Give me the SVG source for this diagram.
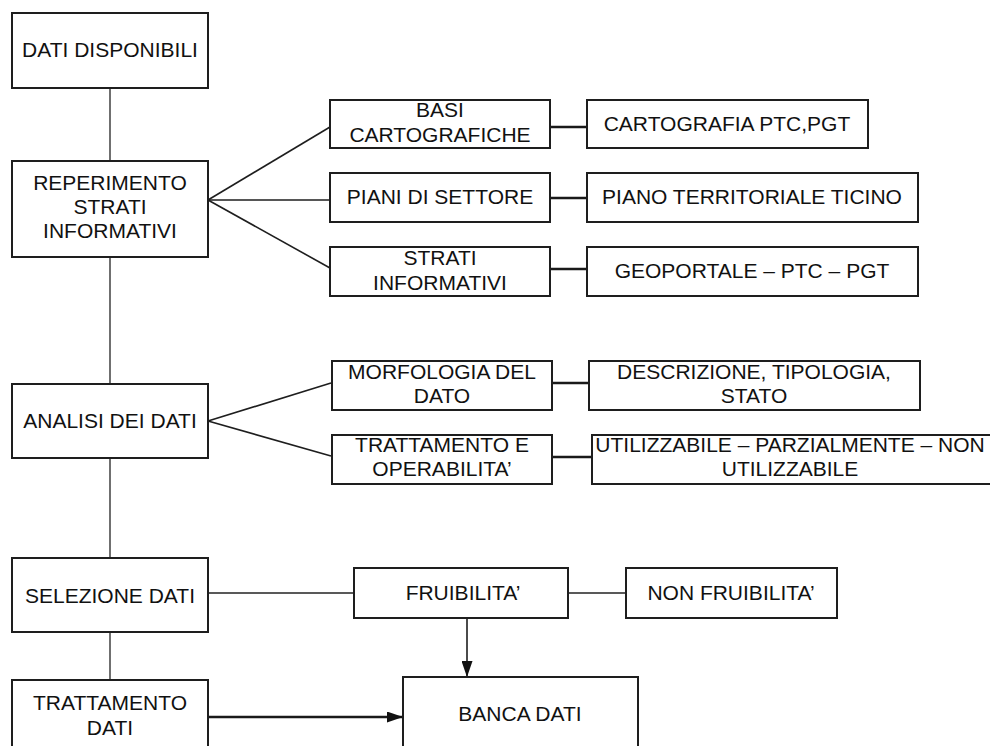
<svg xmlns="http://www.w3.org/2000/svg" width="990" height="746" viewBox="0 0 990 746">
  <style>
    .box { fill: #ffffff; stroke: #1e1e1e; stroke-width: 2; }
    .lbl { font-family: "Liberation Sans", Arial, sans-serif; font-size: 21px; fill: #111111; text-anchor: middle; }
    .thin { stroke: #222222; stroke-width: 1.3; fill: none; }
    .mid { stroke: #1e1e1e; stroke-width: 1.6; fill: none; }
    .bold { stroke: #1a1a1a; stroke-width: 2.4; fill: none; }
  </style>
  <defs>
    <marker id="arrowL" viewBox="0 0 16 11" refX="16" refY="5.5" markerWidth="16" markerHeight="11" orient="auto" markerUnits="userSpaceOnUse">
      <path d="M0,0 L16,5.5 L0,11 z" fill="#111111"/>
    </marker>
  </defs>

  <!-- connectors -->
  <g id="connectors">
    <!-- main spine -->
    <line class="thin" x1="110" y1="88" x2="110" y2="161"/>
    <line class="thin" x1="110" y1="257" x2="110" y2="384"/>
    <line class="thin" x1="110" y1="458" x2="110" y2="558"/>
    <line class="thin" x1="110" y1="632" x2="110" y2="680"/>
    <!-- fan from REPERIMENTO -->
    <line class="mid" x1="208" y1="200" x2="330" y2="127"/>
    <line class="mid" x1="208" y1="200" x2="330" y2="200"/>
    <line class="mid" x1="208" y1="200" x2="330" y2="268"/>
    <!-- links to sources -->
    <line class="bold" x1="550" y1="127" x2="587" y2="127"/>
    <line class="bold" x1="550" y1="198" x2="587" y2="198"/>
    <line class="bold" x1="550" y1="269" x2="587" y2="269"/>
    <!-- fan from ANALISI -->
    <line class="mid" x1="208" y1="421" x2="331" y2="383"/>
    <line class="mid" x1="208" y1="421" x2="331" y2="456"/>
    <line class="bold" x1="553" y1="383" x2="589" y2="383"/>
    <line class="bold" x1="553" y1="457" x2="592" y2="457"/>
    <!-- selection row -->
    <line class="thin" x1="208" y1="593" x2="354" y2="593"/>
    <line class="thin" x1="568" y1="593" x2="626" y2="593"/>
    <!-- arrows into BANCA DATI -->
    <line class="mid" x1="467" y1="618" x2="467" y2="677" marker-end="url(#arrowL)"/>
    <line class="bold" x1="208" y1="717" x2="403" y2="717" marker-end="url(#arrowL)"/>
  </g>

  <g id="dati-disponibili">
    <rect class="box" x="12" y="13" width="196" height="75"/>
    <text class="lbl" x="110" y="57">DATI DISPONIBILI</text>
  </g>

  <g id="reperimento">
    <rect class="box" x="12" y="161" width="196" height="96"/>
    <text class="lbl" x="110" y="190">REPERIMENTO</text>
    <text class="lbl" x="110" y="214">STRATI</text>
    <text class="lbl" x="110" y="238">INFORMATIVI</text>
  </g>

  <g id="basi-cartografiche">
    <rect class="box" x="330" y="100" width="220" height="48"/>
    <text class="lbl" x="440" y="117">BASI</text>
    <text class="lbl" x="440" y="142">CARTOGRAFICHE</text>
  </g>

  <g id="cartografia">
    <rect class="box" x="587" y="100" width="281" height="48"/>
    <text class="lbl" x="727" y="131">CARTOGRAFIA PTC,PGT</text>
  </g>

  <g id="piani-settore">
    <rect class="box" x="330" y="173" width="220" height="49"/>
    <text class="lbl" x="440" y="204">PIANI DI SETTORE</text>
  </g>

  <g id="piano-territoriale">
    <rect class="box" x="587" y="173" width="331" height="49"/>
    <text class="lbl" x="752" y="204">PIANO TERRITORIALE TICINO</text>
  </g>

  <g id="strati-informativi">
    <rect class="box" x="330" y="247" width="220" height="49"/>
    <text class="lbl" x="440" y="265">STRATI</text>
    <text class="lbl" x="440" y="290">INFORMATIVI</text>
  </g>

  <g id="geoportale">
    <rect class="box" x="587" y="247" width="331" height="49"/>
    <text class="lbl" x="752" y="278">GEOPORTALE – PTC – PGT</text>
  </g>

  <g id="analisi">
    <rect class="box" x="12" y="384" width="196" height="74"/>
    <text class="lbl" x="110" y="428">ANALISI DEI DATI</text>
  </g>

  <g id="morfologia">
    <rect class="box" x="332" y="361" width="220" height="49"/>
    <text class="lbl" x="442" y="379">MORFOLOGIA DEL</text>
    <text class="lbl" x="442" y="403">DATO</text>
  </g>

  <g id="descrizione">
    <rect class="box" x="589" y="361" width="331" height="49"/>
    <text class="lbl" x="754" y="379">DESCRIZIONE, TIPOLOGIA,</text>
    <text class="lbl" x="754" y="403">STATO</text>
  </g>

  <g id="trattamento-operabilita">
    <rect class="box" x="332" y="435" width="220" height="49"/>
    <text class="lbl" x="442" y="452">TRATTAMENTO E</text>
    <text class="lbl" x="442" y="476">OPERABILITA’</text>
  </g>

  <g id="utilizzabile">
    <rect class="box" x="592" y="435" width="410" height="49"/>
    <text class="lbl" x="790" y="452">UTILIZZABILE – PARZIALMENTE – NON</text>
    <text class="lbl" x="790" y="476">UTILIZZABILE</text>
  </g>

  <g id="selezione">
    <rect class="box" x="12" y="558" width="196" height="74"/>
    <text class="lbl" x="110" y="603">SELEZIONE DATI</text>
  </g>

  <g id="fruibilita">
    <rect class="box" x="354" y="568" width="214" height="50"/>
    <text class="lbl" x="463" y="600">FRUIBILITA’</text>
  </g>

  <g id="non-fruibilita">
    <rect class="box" x="626" y="568" width="211" height="50"/>
    <text class="lbl" x="731" y="600">NON FRUIBILITA’</text>
  </g>

  <g id="trattamento-dati">
    <rect class="box" x="12" y="680" width="196" height="80"/>
    <text class="lbl" x="110" y="710">TRATTAMENTO</text>
    <text class="lbl" x="110" y="735">DATI</text>
  </g>

  <g id="banca-dati">
    <rect class="box" x="403" y="677" width="235" height="83"/>
    <text class="lbl" x="520" y="721">BANCA DATI</text>
  </g>
</svg>
